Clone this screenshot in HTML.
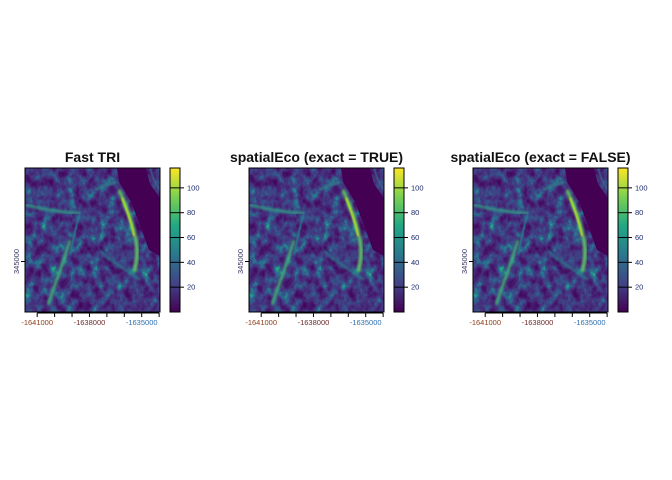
<!DOCTYPE html>
<html><head><meta charset="utf-8">
<style>
html,body{margin:0;padding:0;background:#fff;}
svg{display:block;font-family:"Liberation Sans",sans-serif;}
</style></head>
<body>
<svg id="chart" width="672" height="480" viewBox="0 0 672 480" xmlns="http://www.w3.org/2000/svg">
<defs>
<filter id="terrain" x="0" y="0" width="100%" height="100%" filterUnits="objectBoundingBox" color-interpolation-filters="sRGB">
<feTurbulence type="fractalNoise" baseFrequency="0.12 0.09" numOctaves="4" seed="7" result="n"/>
<feColorMatrix in="n" type="matrix" values="1 0 0 0 0  1 0 0 0 0  1 0 0 0 0  0 0 0 0 1"/>
<feComponentTransfer>
<feFuncR type="table" tableValues="0.27 0.27 0.27 0.27 0.27 0.28 0.27 0.25 0.22 0.18 0.15 0.13 0.48 0.99"/>
<feFuncG type="table" tableValues="0.00 0.00 0.02 0.05 0.09 0.14 0.19 0.25 0.31 0.40 0.50 0.66 0.82 0.91"/>
<feFuncB type="table" tableValues="0.33 0.33 0.36 0.39 0.42 0.46 0.49 0.52 0.54 0.55 0.56 0.52 0.32 0.15"/>
</feComponentTransfer>
</filter>
<filter id="blur1" color-interpolation-filters="sRGB"><feGaussianBlur stdDeviation="1.4"/></filter>
<filter id="blur2" color-interpolation-filters="sRGB"><feGaussianBlur stdDeviation="0.7"/></filter>
<linearGradient id="viridis" x1="0" y1="1" x2="0" y2="0">
<stop offset="0" stop-color="#440154"/><stop offset="0.2" stop-color="#414487"/>
<stop offset="0.4" stop-color="#2a788e"/><stop offset="0.6" stop-color="#22a884"/>
<stop offset="0.8" stop-color="#7ad151"/><stop offset="1" stop-color="#fde725"/>
</linearGradient>
<clipPath id="boxclip"><rect x="25" y="168" width="135" height="144"/></clipPath>
</defs>
</svg>
<script>
const titles = ["Fast TRI", "spatialEco (exact = TRUE)", "spatialEco (exact = FALSE)"];
const cbTicks = [20, 40, 60, 80, 100];
const cbMin = 0, cbMax = 116;
const xTicks = [-1641000, -1640000, -1639000, -1638000, -1637000, -1636000, -1635000, -1634000];
const xLabels = [-1641000, -1638000, -1635000];
const xDomain = [-1641700, -1633950];
const yTicks = [345000];
const yDomain = [342300, 350000];

const NS = "http://www.w3.org/2000/svg";
const svg = document.getElementById("chart");
function mk(tag, attrs, parent){const e=document.createElementNS(NS,tag);for(const k in attrs)e.setAttribute(k,attrs[k]);(parent||svg).appendChild(e);return e;}

const box = {x0:25, x1:160, y0:168, y1:312};
const cb = {x0:170, x1:180};
const sx = v => box.x0 + (v - xDomain[0])/(xDomain[1]-xDomain[0])*(box.x1-box.x0);
const sy = v => box.y1 - (v - yDomain[0])/(yDomain[1]-yDomain[0])*(box.y1-box.y0);
const sc = v => box.y1 - (v - cbMin)/(cbMax-cbMin)*(box.y1-box.y0);
const labelColors = {"-1641000":"#8b3a1a","-1638000":"#6b2b2b","-1635000":"#2a6fb0"};

titles.forEach((t, i) => {
  const g = mk("g", {transform:`translate(${i*224},0)`});
  
  

  const ttl = mk("text", {x:(box.x0+box.x1)/2, y:162, "text-anchor":"middle", "font-size":"14", "font-weight":"bold", fill:"#111"}, g);
  ttl.textContent = t;
  
  

  const r = mk("g", {"clip-path":"url(#boxclip)"}, g);
  
  
  mk("rect", {x:box.x0, y:box.y0, width:box.x1-box.x0, height:box.y1-box.y0, fill:"#3b2f73"}, r);
  mk("rect", {x:box.x0, y:box.y0, width:box.x1-box.x0, height:box.y1-box.y0, filter:"url(#terrain)"}, r);
  mk("polygon", {points:"117,168 146,168 150,184 160,198 160,256 149,250 141,228 131,202 119,182", fill:"#440154"}, r);
  mk("path", {d:"M150,168 L154,180 L160,190", stroke:"#3b6e8c", "stroke-width":"1.5", fill:"none", filter:"url(#blur2)"}, r);
  mk("path", {d:"M119,190 C126,205 132,222 136,240 C138,252 137,262 134,272", stroke:"#5ec962", "stroke-width":"3.5", fill:"none", filter:"url(#blur1)"}, r);
  mk("path", {d:"M122,198 C128,212 132,226 134,236", stroke:"#c8e020", "stroke-width":"1.6", fill:"none", filter:"url(#blur2)"}, r);
  mk("path", {d:"M25,205 C40,208 55,212 80,213", stroke:"#2fa387", "stroke-width":"2.5", fill:"none", filter:"url(#blur1)"}, r);
  mk("path", {d:"M70,240 C66,255 60,270 55,285 C52,292 50,300 48,305", stroke:"#3fb57a", "stroke-width":"3", fill:"none", filter:"url(#blur1)"}, r);
  mk("path", {d:"M95,190 C102,186 110,184 117,182", stroke:"#2a8f8a", "stroke-width":"2", fill:"none", filter:"url(#blur1)"}, r);
  mk("path", {d:"M80,212 C75,230 72,245 70,255", stroke:"#24868e", "stroke-width":"1.5", fill:"none", filter:"url(#blur2)"}, r);
  mk("path", {d:"M100,250 C110,262 125,268 140,280", stroke:"#25858e", "stroke-width":"2", fill:"none", filter:"url(#blur1)"}, r);

  const frame = mk("rect", {x:box.x0, y:box.y0, width:box.x1-box.x0, height:box.y1-box.y0, fill:"none", stroke:"#000", "stroke-width":"1"}, g);
  
  

  const xa = mk("g", {}, g);
  
  
  mk("line", {x1:sx(xTicks[0]), x2:sx(xTicks[xTicks.length-1]), y1:box.y1+1, y2:box.y1+1, stroke:"#000"}, xa);
  xTicks.forEach(v => { mk("line", {x1:sx(v), x2:sx(v), y1:box.y1+1, y2:box.y1+5, stroke:"#000"}, xa); });
  xLabels.forEach(v => {
    const tl = mk("text", {x:sx(v), y:325, "text-anchor":"middle", "font-size":"7.5", fill:labelColors[String(v)]||"#333"}, xa);
    tl.textContent = String(v);
    
    
  });

  const ya = mk("g", {}, g);
  
  
  yTicks.forEach(v => {
    mk("line", {x1:box.x0-4, x2:box.x0, y1:sy(v), y2:sy(v), stroke:"#000"}, ya);
    const tl = mk("text", {x:0, y:0, transform:`translate(19,${sy(v)}) rotate(-90)`, "text-anchor":"middle", "font-size":"7.5", fill:"#3a3a6a"}, ya);
    tl.textContent = String(v);
    
    
  });

  const cbg = mk("g", {}, g);
  
  
  mk("rect", {x:cb.x0, y:sc(cbMax), width:cb.x1-cb.x0, height:sc(cbMin)-sc(cbMax), fill:"url(#viridis)", stroke:"#000", "stroke-width":"1"}, cbg);
  cbTicks.forEach(v => {
    mk("line", {x1:cb.x0, x2:cb.x1+4, y1:sc(v), y2:sc(v), stroke:"#000"}, cbg);
    const tl = mk("text", {x:cb.x1+7, y:sc(v)+2.5, "font-size":"7.5", fill:"#1a2a6a"}, cbg);
    tl.textContent = String(v);
    
    
  });
});
</script>
</body></html>
